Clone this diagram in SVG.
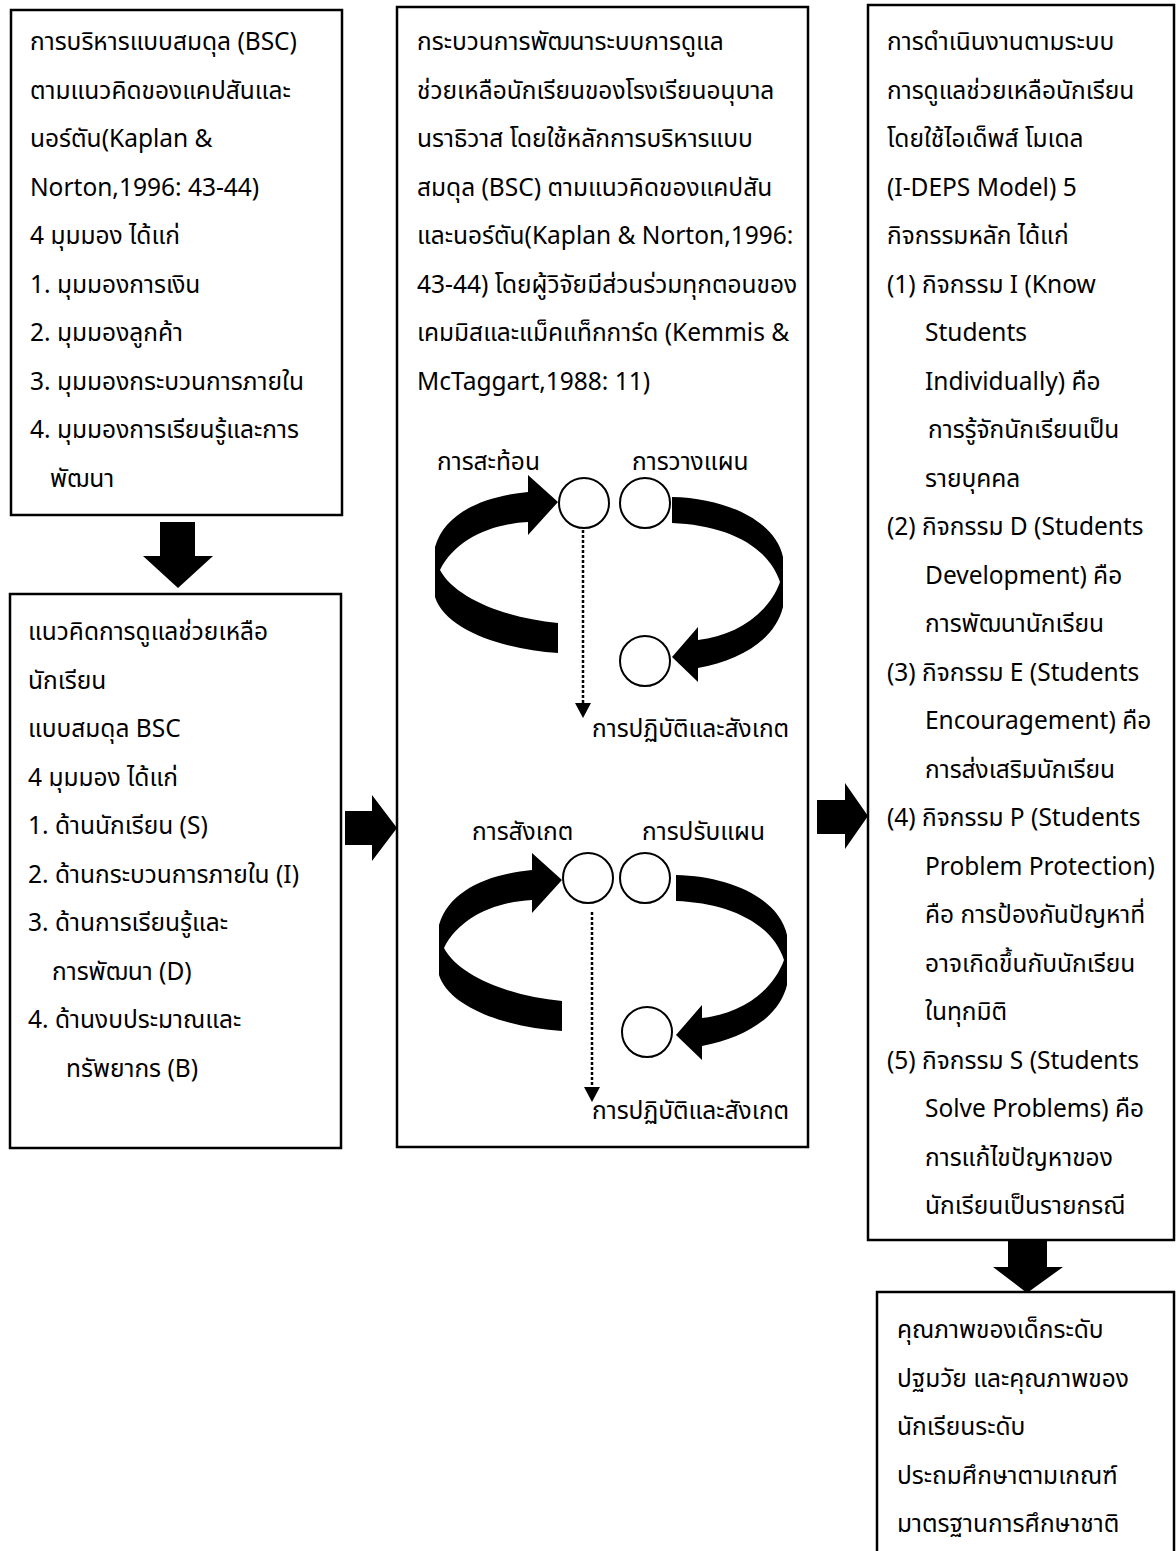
<svg xmlns="http://www.w3.org/2000/svg" xmlns:xlink="http://www.w3.org/1999/xlink" width="1176" height="1551" viewBox="0 0 1176 1551">
<style>
.box{fill:#fff;stroke:#000;stroke-width:2.5}
.t{font-family:"Noto Sans Thai","Leelawadee UI",Tahoma,"Noto Sans",sans-serif;font-size:24.5px;fill:#000}
.blk{fill:#000;stroke:none}
.circ{fill:#fff;stroke:#000;stroke-width:2}
.dot{stroke:#000;stroke-width:2.5;stroke-dasharray:3 2;fill:none}
</style>
<defs>
<path id="bandL" d="M558,623 L558,653 C505,650 445,630 435,597 L435,547 C445,512 485,496 528,492 L528,475 L558,502 L528,535 L528,522 C490,524 455,540 440,570 C455,598 505,618 558,623 Z"/>
<path id="bandR" d="M672,497 C725,498 775,520 783,557 L783,607 C775,640 740,660 698,668 L698,682 L672,657 L698,627 L698,640 C735,636 768,615 780,582 C768,545 725,525 672,523 Z"/>
</defs>
<rect width="1176" height="1551" fill="#fff"/>

<g id="connectors">
<polygon class="blk" points="160,522 195,522 195,556 213,556 178,588 143,556 160,556"/>
<polygon class="blk" points="345,811 372,811 372,795 397,828 372,861 372,845 345,845"/>
<polygon class="blk" points="817,800 845,800 845,783 868,816 845,849 845,834 817,834"/>
<polygon class="blk" points="1008,1240 1047,1240 1047,1267 1063,1267 1027,1293 993,1267 1008,1267"/>
</g>

<g id="box1">
<rect class="box" x="11" y="10" width="331" height="505"/>
<text class="t" x="30" y="50">การบริหารแบบสมดุล (BSC)</text>
<text class="t" x="30" y="98.5">ตามแนวคิดของแคปสันและ</text>
<text class="t" x="30" y="147">นอร์ตัน(Kaplan &amp;</text>
<text class="t" x="30" y="195.5">Norton,1996: 43-44)</text>
<text class="t" x="30" y="244">4 มุมมอง ได้แก่</text>
<text class="t" x="30" y="292.5">1. มุมมองการเงิน</text>
<text class="t" x="30" y="341">2. มุมมองลูกค้า</text>
<text class="t" x="30" y="389.5">3. มุมมองกระบวนการภายใน</text>
<text class="t" x="30" y="438">4. มุมมองการเรียนรู้และการ</text>
<text class="t" x="50" y="486.5">พัฒนา</text>
</g>

<g id="box2">
<rect class="box" x="10" y="594" width="331" height="554"/>
<text class="t" x="28" y="640">แนวคิดการดูแลช่วยเหลือ</text>
<text class="t" x="28" y="688.5">นักเรียน</text>
<text class="t" x="28" y="737">แบบสมดุล BSC</text>
<text class="t" x="28" y="785.5">4 มุมมอง ได้แก่</text>
<text class="t" x="28" y="834">1. ด้านนักเรียน (S)</text>
<text class="t" x="28" y="882.5">2. ด้านกระบวนการภายใน (I)</text>
<text class="t" x="28" y="931">3. ด้านการเรียนรู้และ</text>
<text class="t" x="52" y="979.5">การพัฒนา (D)</text>
<text class="t" x="28" y="1028">4. ด้านงบประมาณและ</text>
<text class="t" x="66" y="1076.5">ทรัพยากร (B)</text>
</g>

<g id="box3">
<rect class="box" x="397" y="7" width="411" height="1140"/>
<text class="t" x="417" y="50">กระบวนการพัฒนาระบบการดูแล</text>
<text class="t" x="417" y="98.5">ช่วยเหลือนักเรียนของโรงเรียนอนุบาล</text>
<text class="t" x="417" y="147">นราธิวาส โดยใช้หลักการบริหารแบบ</text>
<text class="t" x="417" y="195.5">สมดุล (BSC) ตามแนวคิดของแคปสัน</text>
<text class="t" x="417" y="244">และนอร์ตัน(Kaplan &amp; Norton,1996:</text>
<text class="t" x="417" y="292.5">43-44) โดยผู้วิจัยมีส่วนร่วมทุกตอนของ</text>
<text class="t" x="417" y="341">เคมมิสและแม็คแท็กการ์ด (Kemmis &amp;</text>
<text class="t" x="417" y="389.5">McTaggart,1988: 11)</text>
</g>

<g id="cycle1">
<use xlink:href="#bandL" class="blk"/>
<use xlink:href="#bandR" class="blk"/>
<circle class="circ" cx="584" cy="503" r="25"/>
<circle class="circ" cx="645" cy="503" r="25"/>
<circle class="circ" cx="645" cy="661" r="25"/>
<line class="dot" x1="583" y1="530" x2="583" y2="703"/>
<polygon class="blk" points="575,703 591,703 583,718"/>
<text class="t" x="437" y="470">การสะท้อน</text>
<text class="t" x="632" y="470">การวางแผน</text>
<text class="t" x="592" y="737">การปฏิบัติและสังเกต</text>
</g>

<g id="cycle2">
<g transform="translate(4,378)">
<use xlink:href="#bandL" class="blk"/>
<use xlink:href="#bandR" class="blk"/>
</g>
<circle class="circ" cx="588" cy="878" r="25"/>
<circle class="circ" cx="645" cy="878" r="25"/>
<circle class="circ" cx="647" cy="1032" r="25"/>
<line class="dot" x1="592" y1="912" x2="592" y2="1087"/>
<polygon class="blk" points="584,1087 600,1087 592,1102"/>
<text class="t" x="472" y="840">การสังเกต</text>
<text class="t" x="642" y="840">การปรับแผน</text>
<text class="t" x="592" y="1119">การปฏิบัติและสังเกต</text>
</g>

<g id="box4">
<rect class="box" x="868" y="5" width="306" height="1235"/>
<text class="t" x="887" y="50">การดำเนินงานตามระบบ</text>
<text class="t" x="887" y="98.5">การดูแลช่วยเหลือนักเรียน</text>
<text class="t" x="887" y="147">โดยใช้ไอเด็พส์ โมเดล</text>
<text class="t" x="887" y="195.5">(I-DEPS Model) 5</text>
<text class="t" x="887" y="244">กิจกรรมหลัก ได้แก่</text>
<text class="t" x="887" y="292.5">(1) กิจกรรม I (Know</text>
<text class="t" x="925" y="341">Students</text>
<text class="t" x="925" y="389.5">Individually) คือ</text>
<text class="t" x="928" y="438">การรู้จักนักเรียนเป็น</text>
<text class="t" x="925" y="486.5">รายบุคคล</text>
<text class="t" x="887" y="535">(2) กิจกรรม D (Students</text>
<text class="t" x="925" y="583.5">Development) คือ</text>
<text class="t" x="925" y="632">การพัฒนานักเรียน</text>
<text class="t" x="887" y="680.5">(3) กิจกรรม E (Students</text>
<text class="t" x="925" y="729">Encouragement) คือ</text>
<text class="t" x="925" y="777.5">การส่งเสริมนักเรียน</text>
<text class="t" x="887" y="826">(4) กิจกรรม P (Students</text>
<text class="t" x="925" y="874.5">Problem Protection)</text>
<text class="t" x="925" y="923">คือ การป้องกันปัญหาที่</text>
<text class="t" x="925" y="971.5">อาจเกิดขึ้นกับนักเรียน</text>
<text class="t" x="925" y="1020">ในทุกมิติ</text>
<text class="t" x="887" y="1068.5">(5) กิจกรรม S (Students</text>
<text class="t" x="925" y="1117">Solve Problems) คือ</text>
<text class="t" x="925" y="1165.5">การแก้ไขปัญหาของ</text>
<text class="t" x="925" y="1214">นักเรียนเป็นรายกรณี</text>
</g>

<g id="box5">
<rect class="box" x="877" y="1292" width="297" height="280"/>
<text class="t" x="897" y="1338">คุณภาพของเด็กระดับ</text>
<text class="t" x="897" y="1386.5">ปฐมวัย และคุณภาพของ</text>
<text class="t" x="897" y="1435">นักเรียนระดับ</text>
<text class="t" x="897" y="1483.5">ประถมศึกษาตามเกณฑ์</text>
<text class="t" x="897" y="1532">มาตรฐานการศึกษาชาติ</text>
</g>
</svg>
